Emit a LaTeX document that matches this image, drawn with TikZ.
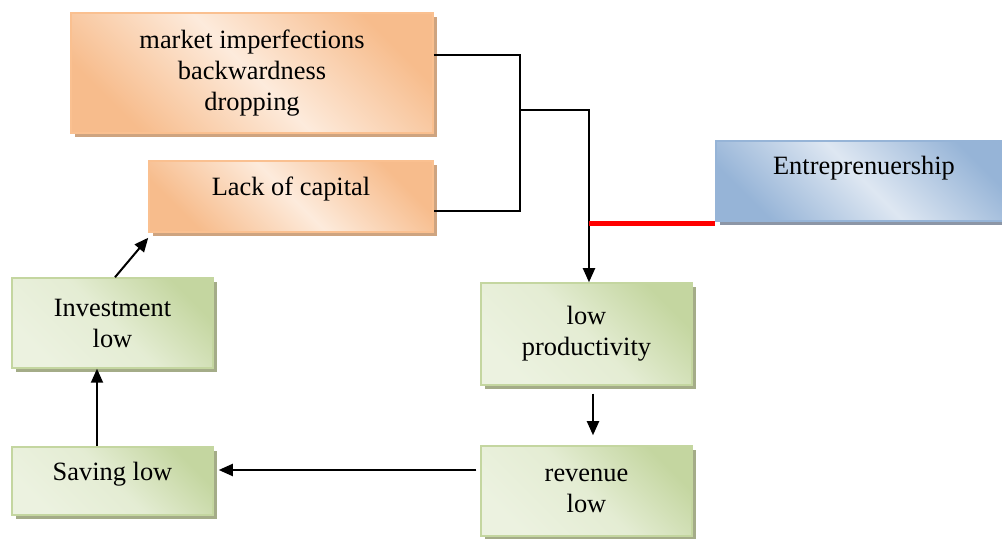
\documentclass[tikz,border=0pt]{standalone}
\usepackage{fontspec}
\setmainfont{Liberation Serif}
\usetikzlibrary{positioning,shapes,arrows.meta,calc,shadows}

\definecolor{odark}{RGB}{247,188,140}
\definecolor{olight}{RGB}{253,235,220}
\definecolor{oborder}{RGB}{250,192,144}
\definecolor{oshadow}{RGB}{206,164,128}
\definecolor{gdark}{RGB}{196,214,160}
\definecolor{glight}{RGB}{236,242,224}
\definecolor{gborder}{RGB}{196,214,160}
\definecolor{gshadow}{RGB}{164,172,136}
\definecolor{bdark}{RGB}{150,180,215}
\definecolor{blight}{RGB}{222,231,242}
\definecolor{bborder}{RGB}{150,180,215}
\definecolor{bshadow}{RGB}{140,150,166}

\tikzset{
  box/.style={rectangle, align=center, inner sep=0pt, line width=0.75pt,
    font=\fontsize{13.2}{15.5}\selectfont},
  orangebox/.style={box, draw=oborder, left color=odark, right color=odark,
    middle color=olight, shading angle=-45,
    drop shadow={shadow xshift=1.75pt, shadow yshift=-2.25pt, fill=oshadow, opacity=1}},
  greenbox/.style={box, draw=gborder, left color=gdark, right color=glight,
    middle color=glight!80!gdark, shading angle=-45,
    drop shadow={shadow xshift=1.75pt, shadow yshift=-2.25pt, fill=gshadow, opacity=1}},
  bluebox/.style={box, draw=bborder, left color=bdark, right color=bdark,
    middle color=blight, shading angle=-45,
    drop shadow={shadow xshift=1.75pt, shadow yshift=-2.25pt, fill=bshadow, opacity=1}},
  link/.style={line width=1pt},
  arr/.style={link, -{Triangle[length=7pt,width=6pt]}},
  redline/.style={red, line width=2.5pt}
}

\begin{document}
\begin{tikzpicture}[x=0.5pt,y=-0.5pt]
  \useasboundingbox (0,0) rectangle (1002,539);
  \clip (0,0) rectangle (1002,539);

  % causes
  \node[orangebox, minimum width=181pt, minimum height=60pt] (mkt) at (252,73)
    {market imperfections\\backwardness\\dropping};
  \node[orangebox, minimum width=142pt, minimum height=35.5pt, text depth=10.5pt] (cap)
    at (291,196.5) {Lack of capital};
  \node[bluebox, minimum width=148pt, minimum height=40pt, text depth=15.8pt] (ent)
    at (864,181) {Entreprenuership};

  % vicious circle
  \node[greenbox, minimum width=105.5pt, minimum height=51pt] (prod) at (586.5,334)
    {low\\productivity};
  \node[greenbox, minimum width=105.5pt, minimum height=45pt] (rev) at (586.5,491)
    {revenue\\low};
  \node[greenbox, minimum width=100.5pt, minimum height=34pt, text depth=9.8pt] (sav)
    at (112.5,481) {Saving low};
  \node[greenbox, minimum width=100.5pt, minimum height=45pt] (inv) at (112.5,323)
    {Investment\\low};

  % connectors
  \coordinate (jn) at (520,110);
  \coordinate (rj) at (589,224);
  \draw[link] ([yshift=9pt]mkt.east) -| (jn) |- ([yshift=-7.25pt]cap.east);
  \draw[arr] (jn) -| ([xshift=1.25pt]prod.north);
  \draw[redline] (rj) -- (rj -| ent.west);

  \draw[arr] ([xshift=3.25pt,yshift=-4pt]prod.south) -- ([xshift=3.25pt,yshift=5pt]rev.north);
  \draw[arr] ([xshift=-2pt,yshift=10.5pt]rev.west) -- ([xshift=2.5pt,yshift=5.5pt]sav.east);
  \draw[arr] ([xshift=-7.75pt]sav.north) -- ([xshift=-7.75pt]inv.south);
  \draw[arr] ([xshift=1.25pt]inv.north) -- ([yshift=-2.5pt]cap.south west);
\end{tikzpicture}
\end{document}
